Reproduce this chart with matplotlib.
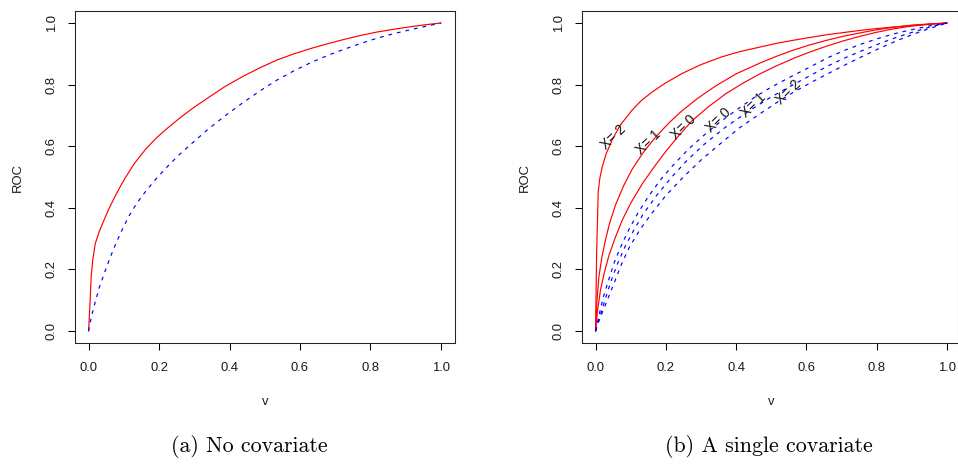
import matplotlib
matplotlib.use("Agg")
import matplotlib.pyplot as plt

# ---------------- data ----------------
ticks = [0.0, 0.2, 0.4, 0.6, 0.8, 1.0]
tick_labels = ["0.0", "0.2", "0.4", "0.6", "0.8", "1.0"]

# panel (a): no covariate
a_red_v = [0, 0.004, 0.0076, 0.012, 0.019, 0.03, 0.043, 0.057, 0.075, 0.09, 0.104, 0.13, 0.161,
           0.19, 0.218, 0.255, 0.294, 0.34, 0.389, 0.44, 0.487, 0.535, 0.583, 0.63, 0.679,
           0.726, 0.773, 0.82, 0.868, 0.92, 0.96, 1.0]
a_red_roc = [0, 0.09, 0.18, 0.232, 0.284, 0.322, 0.358, 0.395, 0.437, 0.469, 0.497, 0.544, 0.589,
             0.624, 0.653, 0.688, 0.722, 0.758, 0.795, 0.828, 0.855, 0.88, 0.90, 0.917, 0.933,
             0.947, 0.96, 0.971, 0.98, 0.989, 0.995, 1.0]
a_blue_v = [0, 0.005, 0.01, 0.019, 0.03, 0.047, 0.06, 0.076, 0.095, 0.114, 0.137, 0.161, 0.19,
            0.218, 0.255, 0.294, 0.34, 0.389, 0.44, 0.487, 0.535, 0.583, 0.63, 0.679, 0.726,
            0.773, 0.82, 0.868, 0.92, 0.96, 1.0]
a_blue_roc = [0, 0.03, 0.055, 0.095, 0.14, 0.195, 0.235, 0.28, 0.328, 0.372, 0.415, 0.452, 0.492,
              0.527, 0.57, 0.61, 0.656, 0.70, 0.743, 0.78, 0.815, 0.845, 0.871, 0.895, 0.915,
              0.934, 0.951, 0.966, 0.98, 0.99, 1.0]

# panel (b): single covariate, red solid (X = 2, 1, 0)
b_red2_v = [0, 0.003, 0.0076, 0.012, 0.019, 0.03, 0.047, 0.07, 0.104, 0.13, 0.161, 0.2, 0.246,
            0.3, 0.359, 0.41, 0.468, 0.515, 0.563, 0.61, 0.658, 0.705, 0.753, 0.8, 0.848, 0.9,
            0.95, 1.0]
b_red2_roc = [0, 0.25, 0.452, 0.495, 0.533, 0.575, 0.62, 0.668, 0.717, 0.748, 0.776, 0.806, 0.836,
              0.865, 0.89, 0.907, 0.922, 0.934, 0.944, 0.953, 0.962, 0.969, 0.976, 0.982, 0.987,
              0.992, 0.996, 1.0]
b_red1_v = [0, 0.004, 0.0095, 0.018, 0.028, 0.04, 0.057, 0.08, 0.104, 0.136, 0.171, 0.21, 0.246,
            0.29, 0.341, 0.4, 0.468, 0.515, 0.563, 0.61, 0.658, 0.705, 0.753, 0.8, 0.848, 0.9,
            0.95, 1.0]
b_red1_roc = [0, 0.10, 0.176, 0.24, 0.295, 0.35, 0.41, 0.472, 0.525, 0.58, 0.63, 0.677, 0.715,
              0.755, 0.795, 0.835, 0.87, 0.892, 0.912, 0.929, 0.944, 0.957, 0.968, 0.978, 0.986,
              0.993, 0.997, 1.0]
b_red0_v = [0, 0.005, 0.014, 0.025, 0.038, 0.055, 0.076, 0.1, 0.133, 0.165, 0.199, 0.235, 0.275,
            0.32, 0.37, 0.42, 0.468, 0.515, 0.563, 0.61, 0.658, 0.705, 0.753, 0.8, 0.848, 0.9,
            0.95, 1.0]
b_red0_roc = [0, 0.06, 0.133, 0.19, 0.245, 0.30, 0.36, 0.415, 0.478, 0.53, 0.582, 0.632, 0.683,
              0.727, 0.77, 0.805, 0.835, 0.861, 0.885, 0.906, 0.925, 0.942, 0.957, 0.97, 0.981,
              0.99, 0.996, 1.0]

# panel (b): blue dashed (X = 0, 1, 2)
b_blue0_v = [0, 0.004, 0.011, 0.022, 0.037, 0.053, 0.072, 0.095, 0.12, 0.15, 0.184, 0.222, 0.264,
             0.31, 0.35, 0.4, 0.45, 0.5, 0.563, 0.61, 0.662, 0.71, 0.76, 0.81, 0.86, 0.91, 0.952,
             1.0]
b_blue0_roc = [0, 0.022, 0.057, 0.11, 0.165, 0.222, 0.274, 0.33, 0.382, 0.436, 0.49, 0.54, 0.59,
               0.637, 0.675, 0.717, 0.757, 0.792, 0.83, 0.857, 0.888, 0.912, 0.933, 0.952, 0.968,
               0.981, 0.991, 1.0]
b_blue1_v = [0, 0.005, 0.015, 0.028, 0.045, 0.063, 0.084, 0.11, 0.137, 0.175, 0.217, 0.262, 0.312,
             0.37, 0.44, 0.5, 0.563, 0.615, 0.662, 0.71, 0.76, 0.81, 0.86, 0.91, 0.952, 1.0]
b_blue1_roc = [0, 0.02, 0.057, 0.105, 0.165, 0.22, 0.274, 0.33, 0.382, 0.442, 0.5, 0.556, 0.609,
               0.662, 0.717, 0.76, 0.80, 0.832, 0.861, 0.887, 0.911, 0.934, 0.955, 0.973, 0.987,
               1.0]
b_blue2_v = [0, 0.006, 0.021, 0.037, 0.056, 0.075, 0.097, 0.127, 0.16, 0.2, 0.25, 0.3, 0.354,
             0.41, 0.47, 0.52, 0.563, 0.615, 0.662, 0.71, 0.76, 0.81, 0.86, 0.91, 0.952, 1.0]
b_blue2_roc = [0, 0.022, 0.065, 0.11, 0.165, 0.22, 0.274, 0.33, 0.382, 0.44, 0.5, 0.555, 0.607,
               0.66, 0.707, 0.745, 0.775, 0.808, 0.836, 0.864, 0.892, 0.919, 0.944, 0.966, 0.983,
               1.0]

# curve labels in panel (b)
lab_text = ["X= 2", "X= 1", "X= 0", "X= 0", "X= 1", "X= 2"]
lab_v = [0.05, 0.151, 0.25, 0.35, 0.45, 0.549]
lab_roc = [0.63, 0.614, 0.663, 0.684, 0.733, 0.776]

captions = ["(a) No covariate", "(b) A single covariate"]
xlabel = "v"
ylabel = "ROC"

# ---------------- drawing ----------------
W, H = 958, 466
fig = plt.figure(figsize=(W / 100, H / 100), dpi=100)
sans = "Liberation Sans"
txtcol = "#1a1a1a"
fs = 9.4


def px_axes(left, right, top, bottom):
    return fig.add_axes([left / W, 1 - bottom / H, (right - left) / W, (bottom - top) / H])


ax1 = px_axes(74.5, 455, 10.7, 343.3)
ax2 = px_axes(581.5, 957.5, 10.7, 343.3)

red = "#ff0000"
blue = "#0000ff"
lw = 0.85
dash = (0, (3.2, 4.2))

ax1.plot(a_red_v, a_red_roc, color=red, lw=lw)
ax1.plot(a_blue_v, a_blue_roc, color=blue, lw=lw, linestyle=dash)

for v, r in [(b_red2_v, b_red2_roc), (b_red1_v, b_red1_roc), (b_red0_v, b_red0_roc)]:
    ax2.plot(v, r, color=red, lw=lw)
for v, r in [(b_blue0_v, b_blue0_roc), (b_blue1_v, b_blue1_roc), (b_blue2_v, b_blue2_roc)]:
    ax2.plot(v, r, color=blue, lw=lw, linestyle=dash)

for t, x, y in zip(lab_text, lab_v, lab_roc):
    ax2.text(x, y, t, rotation=44, ha="center", va="center", fontsize=9.9,
             family=sans, color="#111111", rotation_mode="anchor")

for ax, xr in [(ax1, (-0.04, 1.04)), (ax2, (-0.04, 1.03))]:
    ax.set_xlim(*xr)
    ax.set_ylim(-0.04, 1.04)
    ax.set_xticks(ticks)
    ax.set_xticklabels(tick_labels, family=sans, fontsize=fs, color=txtcol)
    ax.set_yticks(ticks)
    ax.set_yticklabels(tick_labels, family=sans, fontsize=fs, color=txtcol,
                       rotation=90, va="center")
    ax.tick_params(axis="x", length=5, width=0.75, pad=8.5, direction="out")
    ax.tick_params(axis="y", length=5, width=0.75, pad=7.0, direction="out")
    for s in ax.spines.values():
        s.set_linewidth(0.75)
        s.set_color("#222222")

# axis titles
for cx, cy in [(18, 177), (525, 177)]:
    fig.text(cx / W, 1 - cy / H, ylabel, rotation=90, ha="center", va="center",
             family=sans, fontsize=fs, color=txtcol)
for cx, cy in [(265.5, 402), (771, 402)]:
    fig.text(cx / W, 1 - cy / H, xlabel, ha="center", va="center",
             family=sans, fontsize=fs, color=txtcol)

# captions
for (cx, cy), cap in zip([(249, 447), (769, 447)], captions):
    fig.text(cx / W, 1 - cy / H, cap, ha="center", va="center",
             family="cmr10", fontsize=15.8, color="black")

fig.savefig("out.png", dpi=100)
